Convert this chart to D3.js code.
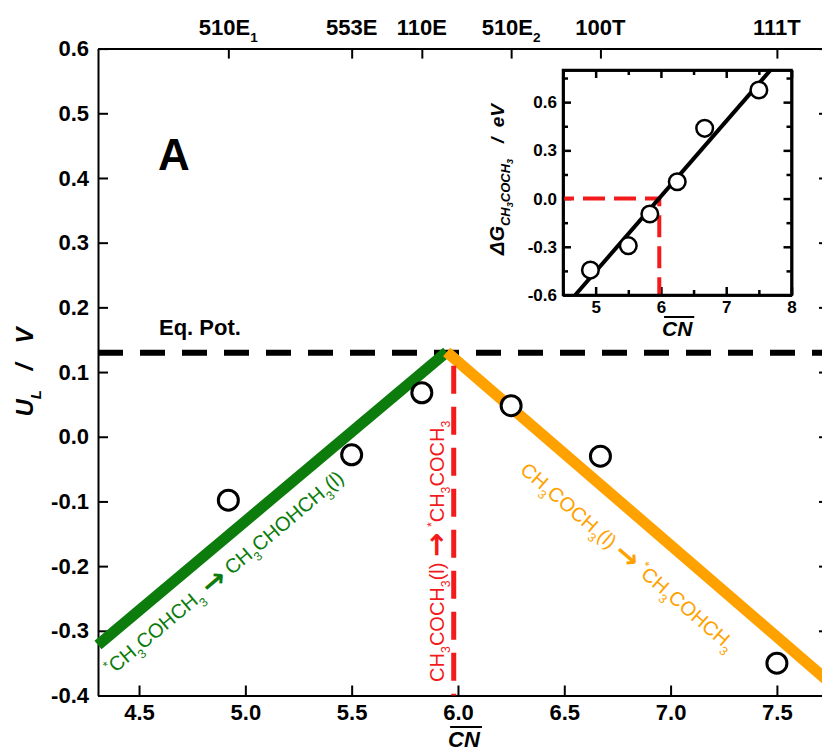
<!DOCTYPE html>
<html lang="en">
<head>
<meta charset="UTF-8">
<title>Limiting potential vs CN</title>
<script src="https://d3js.org/d3.v7.min.js"></script>
<style>
    body { margin: 0; background: #fff; }
    svg text { font-family: "Liberation Sans", Arial, sans-serif; }
</style>
</head>
<body>
<div id="chart"></div>
<script>
    // main panel data
    const cnPoints = [4.92, 5.50, 5.83, 6.25, 6.67, 7.50];
    const ulValues = [-0.098, -0.028, 0.068, 0.048, -0.030, -0.350];
    const siteNames = ["510E", "553E", "110E", "510E", "100T", "111T"];
    const siteSubs = ["1", "", "", "2", "", ""];
    const xTicks = [4.5, 5.0, 5.5, 6.0, 6.5, 7.0, 7.5];
    const yTicks = [-0.4, -0.3, -0.2, -0.1, 0.0, 0.1, 0.2, 0.3, 0.4, 0.5, 0.6];
    const greenLine = [[4.307, -0.322], [5.947, 0.131]];
    const orangeLine = [[5.947, 0.131], [7.745, -0.379]];
    const eqPot = 0.13;
    const crossCN = 5.98;

    // inset data
    const dGValues = [-0.445, -0.293, -0.096, 0.105, 0.437, 0.676];
    const insetXTicks = [4.5, 5, 5.5, 6, 6.5, 7, 7.5, 8];
    const insetXLabels = [5, 6, 7, 8];
    const insetYTicks = [-0.6, -0.45, -0.3, -0.15, 0, 0.15, 0.3, 0.45, 0.6, 0.75];
    const insetYLabels = [-0.6, -0.3, 0.0, 0.3, 0.6];
    const fitLine = [[4.688, -0.6], [7.68, 0.8]];
    const insetCross = 5.975;

    const W = 822, H = 753;
    const GREEN = "#0c7c0c", ORANGE = "#ffa200", RED = "#f21a1a";
    const fmt1 = d => d3.format(".1f")(d).replace("\u2212", "-");

    const svg = d3.select("#chart").append("svg")
        .attr("width", W).attr("height", H);

    const x = d3.scaleLinear().domain([4.307, 7.745]).range([98, 829]);
    const y = d3.scaleLinear().domain([-0.4, 0.6]).range([695.5, 48.6]);

    // text with sub/superscripts: "_x" subscript, "^x" superscript, ">" arrow
    function parseFormula(str, size) {
        const segs = [];
        const re = /([_^])(.)|(>)|([^_^>]+)/g;
        let m;
        while ((m = re.exec(str))) {
            if (m[4]) segs.push([m[4], 0, size]);
            else if (m[3]) segs.push(["\u2192", size * 0.12, size * 1.45, "DejaVu Sans", "bold"]);
            else if (m[1] === "_") segs.push([m[2], size * 0.32, size * 0.62]);
            else segs.push([m[2], -size * 0.38, size * 0.62]);
        }
        return segs;
    }
    function richText(sel, segs) {
        let cur = 0;
        segs.forEach(s => {
            const t = sel.append("tspan").attr("dy", s[1] - cur).attr("font-size", s[2]).text(s[0]);
            if (s[3]) t.attr("font-family", s[3]);
            if (s[4]) t.attr("font-weight", s[4]);
            cur = s[1];
        });
        return sel;
    }
    function overline(g, textSel, gap) {
        const bb = textSel.node().getBBox();
        g.append("line")
            .attr("x1", bb.x + 2).attr("x2", bb.x + bb.width + 1)
            .attr("y1", bb.y - gap).attr("y2", bb.y - gap)
            .attr("stroke", "#000").attr("stroke-width", 2);
    }

    // axes
    function styleAxis(g, size) {
        g.selectAll("path, line").attr("stroke", "#000").attr("stroke-width", 2);
        g.selectAll("text").attr("font-size", size).attr("font-weight", "bold")
            .attr("font-family", "Liberation Sans, Arial, sans-serif").attr("fill", "#000");
    }

    const axBottom = svg.append("g").attr("transform", `translate(0,${y.range()[0]})`)
        .call(d3.axisBottom(x).tickValues(xTicks).tickSizeInner(-10).tickSizeOuter(0)
            .tickPadding(9).tickFormat(fmt1));
    styleAxis(axBottom, 22);

    const axLeft = svg.append("g").attr("transform", `translate(${x.range()[0]},0)`)
        .call(d3.axisLeft(y).tickValues(yTicks).tickSizeInner(-10).tickSizeOuter(0)
            .tickPadding(9).tickFormat(fmt1));
    styleAxis(axLeft, 22);

    const axRight = svg.append("g").attr("transform", `translate(${x.range()[1]},0)`)
        .call(d3.axisRight(y).tickValues(yTicks).tickSizeInner(-10).tickSizeOuter(0).tickFormat(""));
    styleAxis(axRight, 22);

    const axTop = svg.append("g").attr("transform", `translate(0,${y.range()[1]})`)
        .call(d3.axisTop(x).tickValues(cnPoints).tickSizeInner(-10).tickSizeOuter(0).tickFormat(""));
    styleAxis(axTop, 22);

    cnPoints.forEach((c, i) => {
        const t = svg.append("text")
            .attr("x", x(c)).attr("y", 35)
            .attr("text-anchor", "middle")
            .attr("font-size", 22).attr("font-weight", "bold");
        richText(t, parseFormula(siteNames[i] + (siteSubs[i] ? "_" + siteSubs[i] : ""), 22));
    });

    // equilibrium potential
    svg.append("line")
        .attr("x1", x.range()[0]).attr("x2", W)
        .attr("y1", y(eqPot)).attr("y2", y(eqPot))
        .attr("stroke", "#000").attr("stroke-width", 6)
        .attr("stroke-dasharray", "25,17");

    svg.append("text")
        .attr("x", 159).attr("y", 335)
        .attr("font-size", 22).attr("font-weight", "bold")
        .text("Eq. Pot.");

    svg.append("text")
        .attr("x", 158).attr("y", 170)
        .attr("font-size", 44).attr("font-weight", "bold")
        .text("A");

    // limiting potential lines
    const line = d3.line().x(d => x(d[0])).y(d => y(d[1]));
    svg.append("path").datum(greenLine).attr("d", line)
        .attr("stroke", GREEN).attr("stroke-width", 11).attr("fill", "none");
    svg.append("path").datum(orangeLine).attr("d", line)
        .attr("stroke", ORANGE).attr("stroke-width", 11).attr("fill", "none");

    // red dashed vertical
    svg.append("line")
        .attr("x1", x(crossCN)).attr("x2", x(crossCN))
        .attr("y1", y(eqPot)).attr("y2", y(-0.4))
        .attr("stroke", RED).attr("stroke-width", 5)
        .attr("stroke-dasharray", "28,13").attr("stroke-dashoffset", 28);

    // data points
    svg.selectAll("circle.pt").data(cnPoints).join("circle")
        .attr("class", "pt")
        .attr("cx", d => x(d)).attr("cy", (d, i) => y(ulValues[i]))
        .attr("r", 10).attr("fill", "#fff").attr("stroke", "#000").attr("stroke-width", 3);

    // reaction labels
    function angleOf(seg) {
        return Math.atan2(y(seg[1][1]) - y(seg[0][1]), x(seg[1][0]) - x(seg[0][0])) * 180 / Math.PI;
    }
    const gLab = svg.append("text")
        .attr("transform", `translate(${x(4.373)},${y(-0.37)}) rotate(${angleOf(greenLine)})`)
        .attr("fill", GREEN).attr("font-size", 20);
    richText(gLab, parseFormula("^*CH_3COHCH_3 > CH_3CHOHCH_3(l)", 20));

    const oLab = svg.append("text")
        .attr("transform", `translate(${x(6.287)},${y(-0.054)}) rotate(${angleOf(orangeLine)})`)
        .attr("fill", ORANGE).attr("font-size", 20);
    richText(oLab, parseFormula("CH_3COCH_3(l) > ^*CH_3COHCH_3", 20));

    const rLab = svg.append("text")
        .attr("transform", `translate(${x(5.934)},${y(-0.379)}) rotate(-90)`)
        .attr("fill", RED).attr("font-size", 20);
    richText(rLab, parseFormula("CH_3COCH_3(l) > ^*CH_3COCH_3", 20));

    // axis titles
    const yt = svg.append("text")
        .attr("transform", `translate(33,${(y.range()[0] + y.range()[1]) / 2}) rotate(-90)`)
        .attr("text-anchor", "middle").attr("font-size", 24)
        .attr("font-weight", "bold").attr("font-style", "italic")
        .attr("xml:space", "preserve");
    richText(yt, parseFormula("U_L   /   V", 24));

    const xt = svg.append("text")
        .attr("x", 464).attr("y", 747)
        .attr("text-anchor", "middle").attr("font-size", 22)
        .attr("font-weight", "bold").attr("font-style", "italic")
        .text("CN");
    overline(svg, xt, 0);

    // inset
    const ix = d3.scaleLinear().domain([4.5, 8]).range([563, 791.5]);
    const iy = d3.scaleLinear().domain([-0.6, 0.8]).range([295, 70]);
    const inset = svg.append("g");

    inset.append("rect")
        .attr("x", ix.range()[0]).attr("y", iy.range()[1])
        .attr("width", ix.range()[1] - ix.range()[0]).attr("height", iy.range()[0] - iy.range()[1])
        .attr("fill", "#fff");

    const ixMinor = insetXTicks.filter(d => !insetXLabels.includes(d));
    const iyMinor = insetYTicks.filter(d => !insetYLabels.some(v => Math.abs(v - d) < 1e-9));

    function insetAxes(axisFn, scale, transform, ticks, size, labels) {
        const g = inset.append("g").attr("transform", transform)
            .call(axisFn(scale).tickValues(ticks).tickSizeInner(-size).tickSizeOuter(0)
                .tickPadding(6).tickFormat(labels ? labels : ""));
        g.selectAll("path, line").attr("stroke", "#000").attr("stroke-width", 2.5);
        g.selectAll("text").attr("font-size", 17).attr("font-weight", "bold")
            .attr("font-family", "Liberation Sans, Arial, sans-serif").attr("fill", "#000");
        return g;
    }
    const bT = `translate(0,${iy.range()[0]})`, tT = `translate(0,${iy.range()[1]})`;
    const lT = `translate(${ix.range()[0]},0)`, rT = `translate(${ix.range()[1]},0)`;
    insetAxes(d3.axisBottom, ix, bT, insetXLabels, 8, d3.format("d"));
    insetAxes(d3.axisBottom, ix, bT, ixMinor, 5);
    insetAxes(d3.axisTop, ix, tT, insetXLabels, 8);
    insetAxes(d3.axisTop, ix, tT, ixMinor, 5);
    insetAxes(d3.axisLeft, iy, lT, insetYLabels, 8, fmt1);
    insetAxes(d3.axisLeft, iy, lT, iyMinor, 5);
    insetAxes(d3.axisRight, iy, rT, insetYLabels, 8);
    insetAxes(d3.axisRight, iy, rT, iyMinor, 5);

    // red guide in inset
    inset.append("path")
        .datum([[4.5, 0], [insetCross, 0], [insetCross, -0.6]])
        .attr("d", d3.line().x(d => ix(d[0])).y(d => iy(d[1])))
        .attr("fill", "none").attr("stroke", RED).attr("stroke-width", 4)
        .attr("stroke-dasharray", "22,9").attr("stroke-dashoffset", 11);

    inset.append("path").datum(fitLine)
        .attr("d", d3.line().x(d => ix(d[0])).y(d => iy(d[1])))
        .attr("stroke", "#000").attr("stroke-width", 4).attr("fill", "none");

    inset.selectAll("circle").data(cnPoints).join("circle")
        .attr("cx", d => ix(d)).attr("cy", (d, i) => iy(dGValues[i]))
        .attr("r", 8.3).attr("fill", "#fff").attr("stroke", "#000").attr("stroke-width", 2.5);

    // frame on top
    inset.append("rect")
        .attr("x", ix.range()[0]).attr("y", iy.range()[1])
        .attr("width", ix.range()[1] - ix.range()[0]).attr("height", iy.range()[0] - iy.range()[1])
        .attr("fill", "none").attr("stroke", "#000").attr("stroke-width", 2.5);

    const iyt = inset.append("text")
        .attr("transform", `translate(504,${(iy.range()[0] + iy.range()[1]) / 2 - 3}) rotate(-90)`)
        .attr("text-anchor", "middle").attr("font-size", 19)
        .attr("font-weight", "bold").attr("font-style", "italic")
        .attr("xml:space", "preserve");
    richText(iyt, [["\u0394G", 0, 20], ["CH", 6, 13], ["3", 9, 9], ["COCH", 6, 13], ["3", 9, 9], ["   /  eV", 0, 19]]);

    const ixt = inset.append("text")
        .attr("x", (ix.range()[0] + ix.range()[1]) / 2).attr("y", 336)
        .attr("text-anchor", "middle").attr("font-size", 21)
        .attr("font-weight", "bold").attr("font-style", "italic")
        .text("CN");
    overline(inset, ixt, 0);
</script>
</body>
</html>
